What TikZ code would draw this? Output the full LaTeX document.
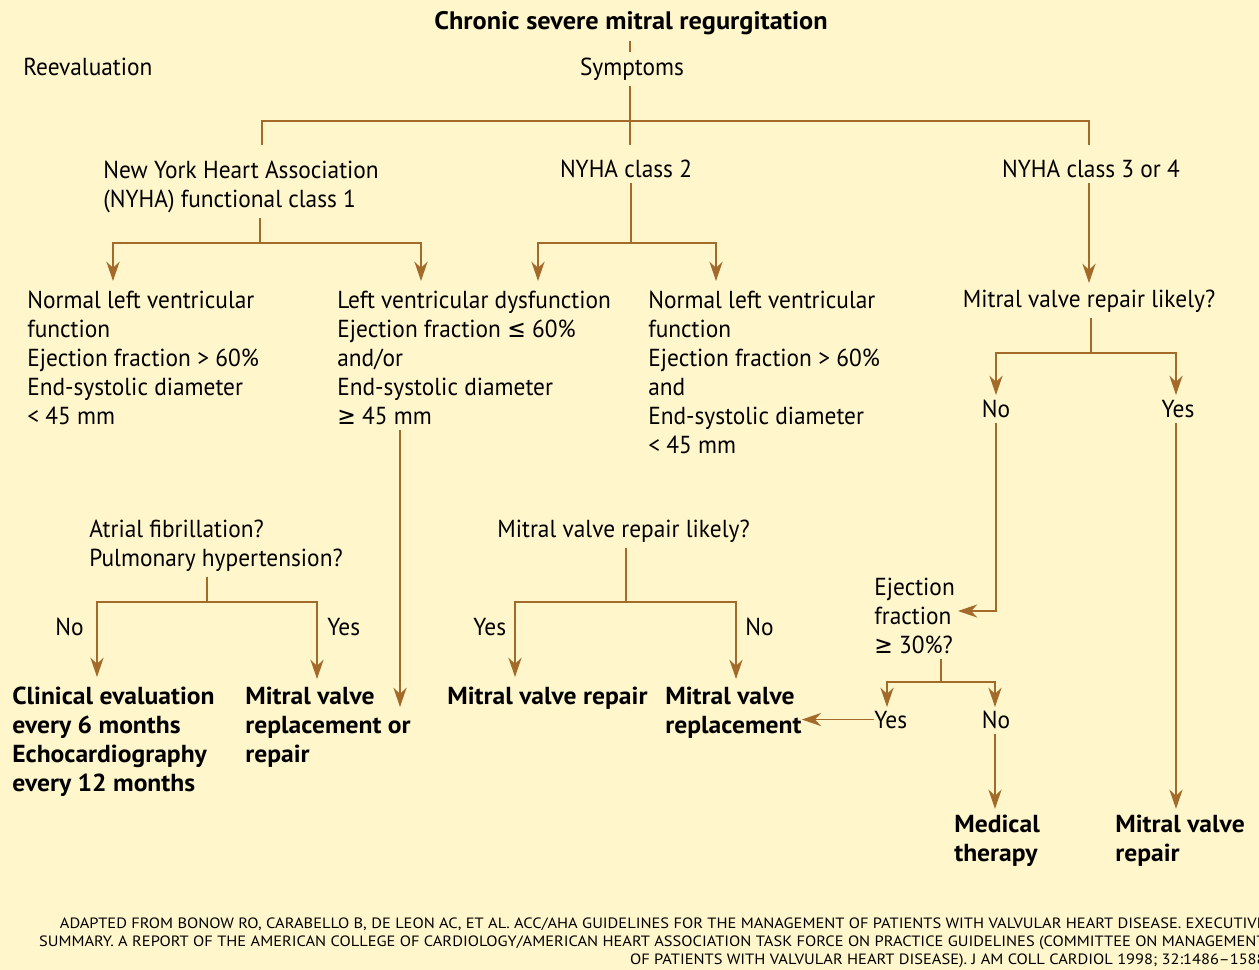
\documentclass[tikz,border=0pt]{standalone}
\usepackage{fontspec}
\setmainfont{PT Sans}[FakeStretch=0.95,BoldFeatures={FakeStretch=1.04}]
\newfontfamily\srcfont{PT Sans}[FakeStretch=1.1]
\newfontfamily\symfont{DejaVu Sans}[FakeStretch=0.9]
\newcommand\symle{{\symfont ≤}}
\newcommand\symge{{\symfont ≥}}
\usetikzlibrary{arrows.meta}
\definecolor{paper}{RGB}{255,246,204}
\definecolor{branch}{RGB}{163,106,42}

\begin{document}
\begin{tikzpicture}[
		x=0.02cm, y=-0.02cm,
		>={Stealth[length=11pt,width=7.5pt,inset=3.5pt]},
		every node/.append style={
			inner xsep=0pt,
			inner ysep=3pt,
			font=\fontsize{14}{16.5}\selectfont,
		},
		lbl/.style={anchor=base west,align=left},
		ctr/.style={anchor=base,align=center},
		result/.style={lbl,font=\bfseries\fontsize{14}{16.5}\selectfont},
		link/.style={draw=branch,line width=1pt},
	]
	\useasboundingbox[fill=paper] (0,0) rectangle (1259,970);
	% top of the tree (multi-line nodes sit on their last line)
	\node[ctr,font=\bfseries\fontsize{14.4}{16.5}\selectfont] (title) at (631,30) {Chronic severe mitral regurgitation};
	\node[lbl] (reeval) at (23,75) {Reevaluation};
	\node[ctr] (symptoms) at (632,75) {Symptoms};
	\node[lbl] (nyha1) at (103,207) {New York Heart Association\\(NYHA) functional class 1};
	\node[ctr] (nyha2) at (626,177) {NYHA class 2};
	\node[ctr] (nyha3) at (1091,177) {NYHA class 3 or 4};
	% second row
	\node[lbl] (normal1) at (27,424) {Normal left ventricular\\function\\Ejection fraction > 60\%\\End-systolic diameter\\< 45 mm};
	\node[lbl] (lvdys) at (337,424) {Left ventricular dysfunction\\Ejection fraction \symle{} 60\%\\and/or\\End-systolic diameter\\\symge{} 45 mm};
	\node[lbl] (normal2) at (648,453) {Normal left ventricular\\function\\Ejection fraction > 60\%\\and\\End-systolic diameter\\< 45 mm};
	\node[ctr] (likely3) at (1089,307) {Mitral valve repair likely?};
	\node[ctr] (no3) at (996,417) {No};
	\node[ctr] (yes3) at (1178,417) {Yes};
	% questions
	\node[lbl] (afib) at (89,566) {Atrial fibrillation?\\Pulmonary hypertension?};
	\node[lbl] (likely2) at (497,537) {Mitral valve repair likely?};
	\node[lbl] (ejection) at (874,653) {Ejection\\fraction\\\symge{} 30\%?};
	\node[lbl] (no1) at (55,635) {No};
	\node[lbl] (yes1) at (327,635) {Yes};
	\node[lbl] (yes2) at (473,635) {Yes};
	\node[lbl] (no2) at (745,635) {No};
	\node[lbl] (yes4) at (874,728) {Yes};
	\node[ctr] (no4) at (996,728) {No};
	% outcomes
	\node[result] (followup) at (12,791) {Clinical evaluation\\every 6 months\\Echocardiography\\every 12 months};
	\node[result] (replrep) at (245,762) {Mitral valve\\replacement or\\repair};
	\node[result] (repair2) at (447,704) {Mitral valve repair};
	\node[result] (replace2) at (665,733) {Mitral valve\\replacement};
	\node[result] (medical) at (954,861) {Medical\\therapy};
	\node[result] (repair3) at (1115,861) {Mitral valve\\repair};
	% source
	\node[anchor=north east,align=right,font=\srcfont\fontsize{8.5}{10.2}\selectfont] (source) at (1266,912) {ADAPTED FROM BONOW RO, CARABELLO B, DE LEON AC, ET AL. ACC/AHA GUIDELINES FOR THE MANAGEMENT OF PATIENTS WITH VALVULAR HEART DISEASE. EXECUTIVE\\SUMMARY. A REPORT OF THE AMERICAN COLLEGE OF CARDIOLOGY/AMERICAN HEART ASSOCIATION TASK FORCE ON PRACTICE GUIDELINES (COMMITTEE ON MANAGEMENT\\OF PATIENTS WITH VALVULAR HEART DISEASE). J AM COLL CARDIOL 1998; 32:1486–1588};
	% branch points and arrow ends
	\coordinate (fork0) at (630,121);
	\coordinate (drop1) at (262,145);
	\coordinate (drop2) at (630,145);
	\coordinate (drop3) at (1089,145);
	\coordinate (fork1) at (260,243);
	\coordinate (fork2) at (631,243);
	\coordinate (fork3) at (1091,353);
	\coordinate (fork4) at (207,602);
	\coordinate (fork5) at (626,602);
	\coordinate (fork6) at (941,682);
	\coordinate (tip1a) at (113,281);
	\coordinate (tip1b) at (421,281);
	\coordinate (tip2a) at (538,281);
	\coordinate (tip2b) at (716,281);
	\coordinate (tip3) at (1089,283);
	\coordinate (tip3a) at (996,395);
	\coordinate (tip3b) at (1176,395);
	\coordinate (tipno) at (958,611);
	\coordinate (tiplv) at (400,707);
	\coordinate (tip4a) at (97,677);
	\coordinate (tip4b) at (317,679);
	\coordinate (tip5a) at (515,677);
	\coordinate (tip5b) at (736,679);
	\coordinate (tip6a) at (887,707);
	\coordinate (tip6b) at (995,707);
	% draw the connection lines
	\draw[link] (title.south -| fork0) -- (symptoms.north -| fork0);
	\draw[link] (symptoms.south -| fork0) -- (drop2);
	\draw[link] (drop1) |- (fork0) -| (drop3);
	\draw[link] (nyha1.south -| fork1) -- (fork1);
	\draw[link,->] (fork1) -| (tip1a);
	\draw[link,->] (fork1) -| (tip1b);
	\draw[link] (nyha2.south -| fork2) -- (fork2);
	\draw[link,->] (fork2) -| (tip2a);
	\draw[link,->] (fork2) -| (tip2b);
	\draw[link,->] (nyha3.south -| tip3) -- (tip3);
	\draw[link] (likely3.south -| fork3) -- (fork3);
	\draw[link,->] (fork3) -| (tip3a);
	\draw[link,->] (fork3) -| (tip3b);
	\draw[link,->] (no3.south -| tip3a) |- (tipno);
	\draw[link,->] (yes3.south -| tip3b) -- (tip3b |- repair3.north);
	\draw[link,->] (lvdys.south -| tiplv) -- (tiplv);
	\draw[link] (afib.south -| fork4) -- (fork4);
	\draw[link,->] (fork4) -| (tip4a);
	\draw[link,->] (fork4) -| (tip4b);
	\draw[link] (likely2.south -| fork5) -- (fork5);
	\draw[link,->] (fork5) -| (tip5a);
	\draw[link,->] (fork5) -| (tip5b);
	\draw[link] (ejection.south -| fork6) -- (fork6);
	\draw[link,->] (fork6) -| (tip6a);
	\draw[link,->] (fork6) -| (tip6b);
	\draw[link,->] (yes4) -- (yes4 -| replace2.east);
	\draw[link,->] (no4.south -| tip6b) -- (tip6b |- medical.north);
\end{tikzpicture}
\end{document}
